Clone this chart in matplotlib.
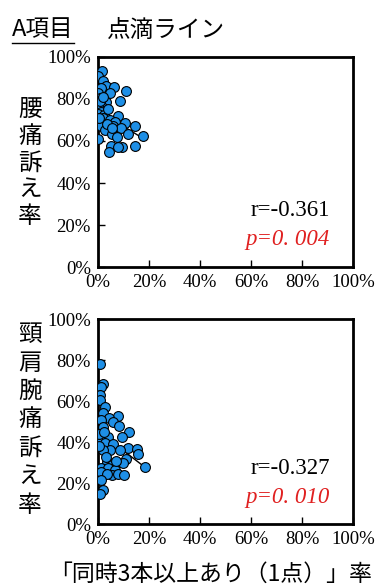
import matplotlib
matplotlib.use('Agg')
import matplotlib.pyplot as plt
from matplotlib.lines import Line2D
from matplotlib.ticker import PercentFormatter
import numpy as np

# 値は図から読み取り (%)
top_x = [1.5, 0, 2, 3, 6.5, 11.2, 1.4, 0, 4.7, 0.8, 8.6, 3.1, 0, 1.5, 0.5, 1.2, 0, 2.5,
         2.1, 8, 4.7, 0, 6.7, 10.6, 1.4, 6, 14.5, 9, 2.7, 11.9, 17.8, 5.4, 0.1, 7.3,
         14.5, 5.1, 9.3, 7.7, 4.3, 3.5, 1, 0.3, 4, 2, 5.5]
top_y = [93.5, 91, 88.5, 86, 85.5, 84, 85, 83, 82.7, 80.5, 79, 78.7, 77, 76, 75, 74, 73, 72.5,
         70.8, 72, 70, 69, 69, 68.4, 67, 67, 67, 66, 65.2, 63.3, 62.4, 63.3, 61, 62,
         57.8, 57.6, 57, 57, 55, 68, 79, 71, 75, 81, 66]
bot_x = [1, 2, 1.4, 1, 1, 2.7, 2, 8, 4.4, 6, 8.4, 1.4, 2, 12.3, 9.3, 4, 0.8, 2.7, 6,
         11.9, 15.2, 15.8, 8.6, 4.7, 2, 11.2, 9.9, 18.4, 3.4, 5.4, 1.4, 4, 6.7, 1.4,
         5.4, 8, 10.2, 3.4, 1.4, 2, 1, 0.5, 3, 0.3, 7, 2.5]
bot_y = [78, 68.6, 67, 63, 60.8, 57.2, 54.3, 52.7, 51.6, 49.9, 47.8, 50.7, 47.2, 45, 42.6,
         42.6, 41, 39.4, 39, 37.4, 36.9, 34.5, 36, 36, 36, 32, 29.9, 28, 30.4, 28.8,
         27.2, 27.2, 26.3, 25.5, 23.9, 24.7, 23.9, 24.7, 21.5, 16.6, 14.6, 44, 33, 38, 31, 45]

top_fit = (74.5, -0.75, 17.8)   # 切片, 傾き, xの最大
bot_fit = (45.5, -0.96, 18.4)
stats = [('r=-0.361', 'p=0. 004'), ('r=-0.327', 'p=0. 010')]
ylabels = ['腰痛訴え率', '頸肩腕痛訴え率']

serif = ['Liberation Serif', 'Noto Sans CJK JP']
jp = ['Noto Sans CJK JP', 'DejaVu Sans']

fig = plt.figure(figsize=(3.78, 5.87), dpi=100)
ax1 = fig.add_axes([0.259, 0.545, 0.675, 0.358])
ax2 = fig.add_axes([0.259, 0.107, 0.675, 0.349])

panels = [(ax1, top_x, top_y, top_fit), (ax2, bot_x, bot_y, bot_fit)]
for i, (ax, xs, ys, fit) in enumerate(panels):
    a, b, xmax = fit
    xx = np.array([0, xmax])
    ax.plot(xx, a + b * xx, color='black', lw=1, zorder=2)
    ax.scatter(xs, ys, s=50, color='#1E8FE6', edgecolor='black', linewidth=0.8, zorder=3)
    ax.set_xlim(0, 100)
    ax.set_ylim(0, 100)
    ax.set_xticks(np.arange(0, 101, 20))
    ax.set_yticks(np.arange(0, 101, 20))
    ax.xaxis.set_major_formatter(PercentFormatter(decimals=0))
    ax.yaxis.set_major_formatter(PercentFormatter(decimals=0))
    ax.tick_params(direction='in', length=5, width=1, labelsize=13.5, pad=5)
    for lab in ax.get_xticklabels() + ax.get_yticklabels():
        lab.set_family(serif)
    for sp in ax.spines.values():
        sp.set_linewidth(2)
    ax.text(0.91, 0.27, stats[i][0], transform=ax.transAxes, ha='right', va='center',
            fontsize=16.5, family=serif)
    ax.text(0.91, 0.13, stats[i][1], transform=ax.transAxes, ha='right', va='center',
            fontsize=16.5, family=serif, style='italic', color='#E02020')

fig.text(30 / 378, 1 - 163 / 587, '\n'.join(ylabels[0]), ha='center', va='center',
         fontsize=17, family=jp, linespacing=1.2)
fig.text(30 / 378, 1 - 420 / 587, '\n'.join(ylabels[1]), ha='center', va='center',
         fontsize=17, family=jp, linespacing=1.3)

t1 = fig.text(12 / 378, 1 - 30 / 587, 'A項目', ha='left', va='center', fontsize=17, family=jp)
fig.text(107 / 378, 1 - 30 / 587, '点滴ライン', ha='left', va='center', fontsize=17, family=jp)
fig.text(211 / 378, 1 - 574 / 587, '「同時3本以上あり（1点）」率', ha='center', va='center',
         fontsize=16.5, family=jp)

# 下線
fig.canvas.draw()
bb = t1.get_window_extent().transformed(fig.transFigure.inverted())
fig.add_artist(Line2D([bb.x0, bb.x1], [bb.y0 - 0.002, bb.y0 - 0.002], color='black', lw=1))

fig.savefig('out.png', dpi=100)
